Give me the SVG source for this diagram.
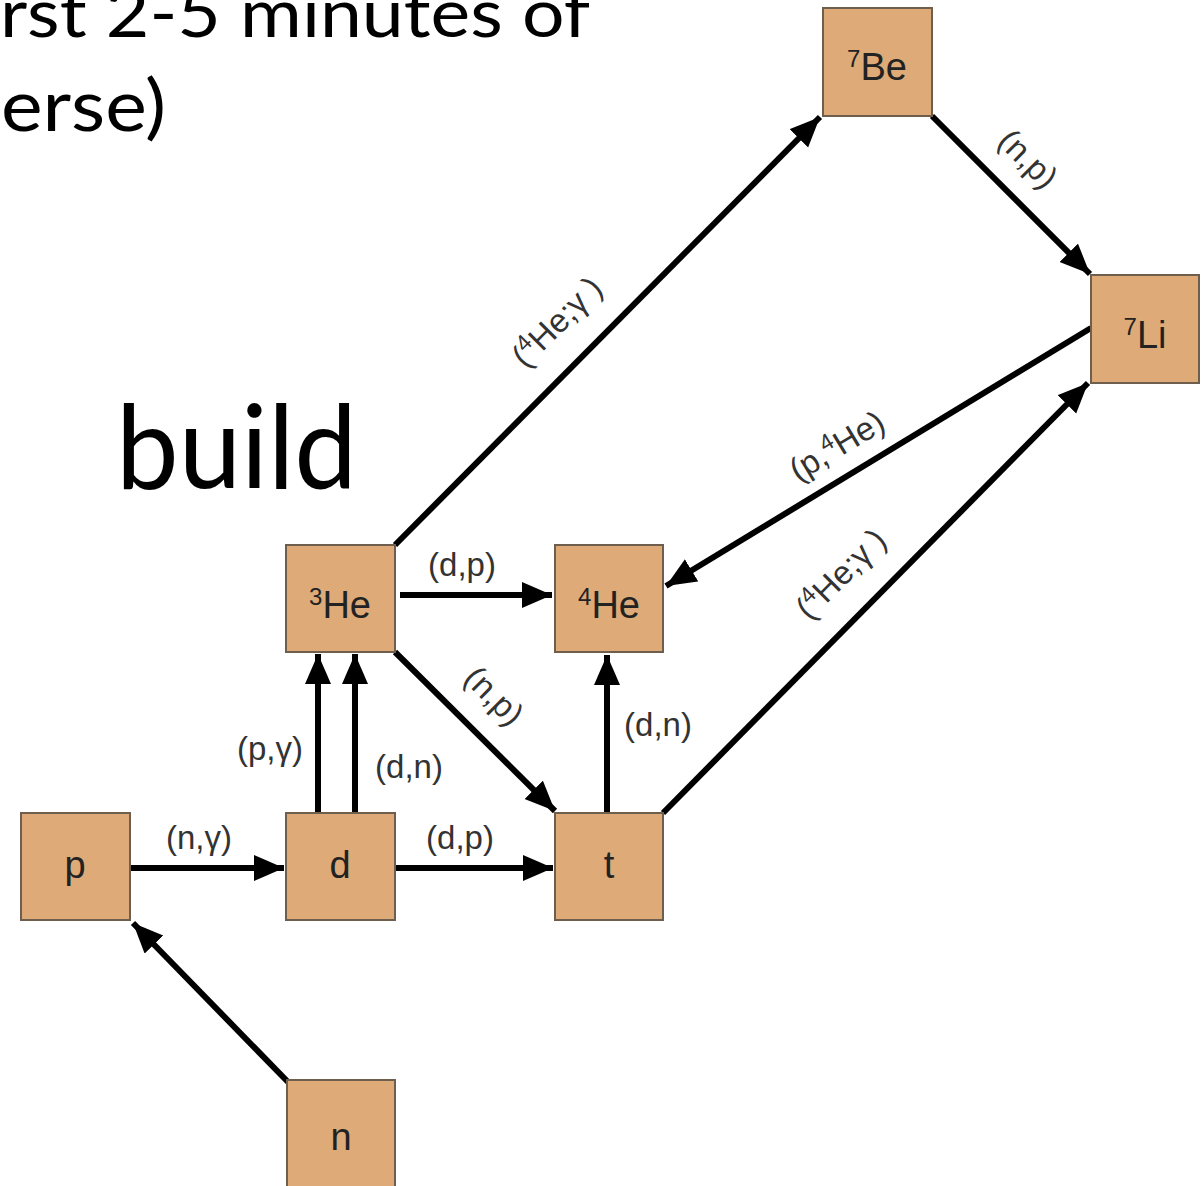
<svg xmlns="http://www.w3.org/2000/svg" width="1201" height="1186" viewBox="0 0 1201 1186">
<style>
.title{font-family:Lato,"Open Sans","DejaVu Sans",sans-serif;fill:#000}
.box{fill:#DEAA78;stroke:#6E5E4E;stroke-width:2}
.nt{font-family:"Liberation Sans",Arial,sans-serif;font-size:38px;fill:#222;text-anchor:middle}
.lb{font-family:"Liberation Sans",Arial,sans-serif;font-size:33px;fill:#333;text-anchor:middle}
.sup{font-size:24px}
.lsup{font-size:23px}
.arr{stroke:#000;stroke-width:6;fill:none;marker-end:url(#ah)}
</style>
<defs>
<marker id="ah" markerUnits="userSpaceOnUse" markerWidth="32" markerHeight="28" refX="30" refY="13" orient="auto">
<path d="M0,0 L30,13 L0,26 Z" fill="#000"/>
</marker>
</defs>
<rect width="1201" height="1186" fill="#fff"/>
<text class="title" x="0" y="37" font-size="68" textLength="590" lengthAdjust="spacingAndGlyphs">rst 2-5 minutes of</text>
<text class="title" x="1" y="131" font-size="72" textLength="165" lengthAdjust="spacingAndGlyphs">erse)</text>
<text class="title" x="116" y="488" font-size="116" textLength="241" lengthAdjust="spacingAndGlyphs">build</text>

<g id="connectors">
<line class="arr" x1="288" y1="1082" x2="133" y2="923"/>
<line class="arr" x1="130" y1="868" x2="284" y2="868"/>
<line class="arr" x1="395" y1="868" x2="553" y2="868"/>
<line class="arr" x1="318" y1="813" x2="318" y2="654"/>
<line class="arr" x1="355" y1="813" x2="355" y2="654"/>
<line class="arr" x1="400" y1="595" x2="552" y2="595"/>
<line class="arr" x1="395" y1="652" x2="555" y2="811"/>
<line class="arr" x1="607" y1="813" x2="607" y2="655"/>
<line class="arr" x1="663" y1="813" x2="1088" y2="383"/>
<line class="arr" x1="1091" y1="328" x2="666" y2="586"/>
<line class="arr" x1="395" y1="545" x2="820" y2="117"/>
<line class="arr" x1="932" y1="116" x2="1090" y2="274"/>
<text class="lb" x="199" y="849">(n,γ)</text>
<text class="lb" x="460" y="849">(d,p)</text>
<text class="lb" x="462" y="576">(d,p)</text>
<text class="lb" x="270" y="760">(p,γ)</text>
<text class="lb" x="409" y="778">(d,n)</text>
<text class="lb" x="658" y="736">(d,n)</text>
<text class="lb" transform="translate(494,696) rotate(45)" y="11">(n,p)</text>
<text class="lb" transform="translate(1028,159) rotate(45)" y="11">(n,p)</text>
<text class="lb" transform="translate(557,322) rotate(-45)" y="11">(<tspan class="lsup" dy="-12">4</tspan><tspan dy="12">He;γ )</tspan></text>
<text class="lb" transform="translate(841,574) rotate(-45)" y="11">(<tspan class="lsup" dy="-12">4</tspan><tspan dy="12">He;γ )</tspan></text>
<text class="lb" transform="translate(837,446) rotate(-31)" y="11">(p,<tspan class="lsup" dy="-12">4</tspan><tspan dy="12">He)</tspan></text>
</g>

<g id="node-7Be"><rect class="box" x="823" y="8" width="109" height="108"/><text class="nt" x="877" y="80"><tspan class="sup" dy="-13">7</tspan><tspan dy="13">Be</tspan></text></g>
<g id="node-7Li"><rect class="box" x="1091" y="275" width="108" height="108"/><text class="nt" x="1145" y="348"><tspan class="sup" dy="-13">7</tspan><tspan dy="13">Li</tspan></text></g>
<g id="node-3He"><rect class="box" x="286" y="545" width="109" height="107"/><text class="nt" x="340" y="618"><tspan class="sup" dy="-13">3</tspan><tspan dy="13">He</tspan></text></g>
<g id="node-4He"><rect class="box" x="555" y="545" width="108" height="107"/><text class="nt" x="609" y="618"><tspan class="sup" dy="-13">4</tspan><tspan dy="13">He</tspan></text></g>
<g id="node-p"><rect class="box" x="21" y="813" width="109" height="107"/><text class="nt" x="75" y="878">p</text></g>
<g id="node-d"><rect class="box" x="286" y="813" width="109" height="107"/><text class="nt" x="340" y="878">d</text></g>
<g id="node-t"><rect class="box" x="555" y="813" width="108" height="107"/><text class="nt" x="609" y="878">t</text></g>
<g id="node-n"><rect class="box" x="287" y="1080" width="108" height="108"/><text class="nt" x="341" y="1150">n</text></g>
</svg>
